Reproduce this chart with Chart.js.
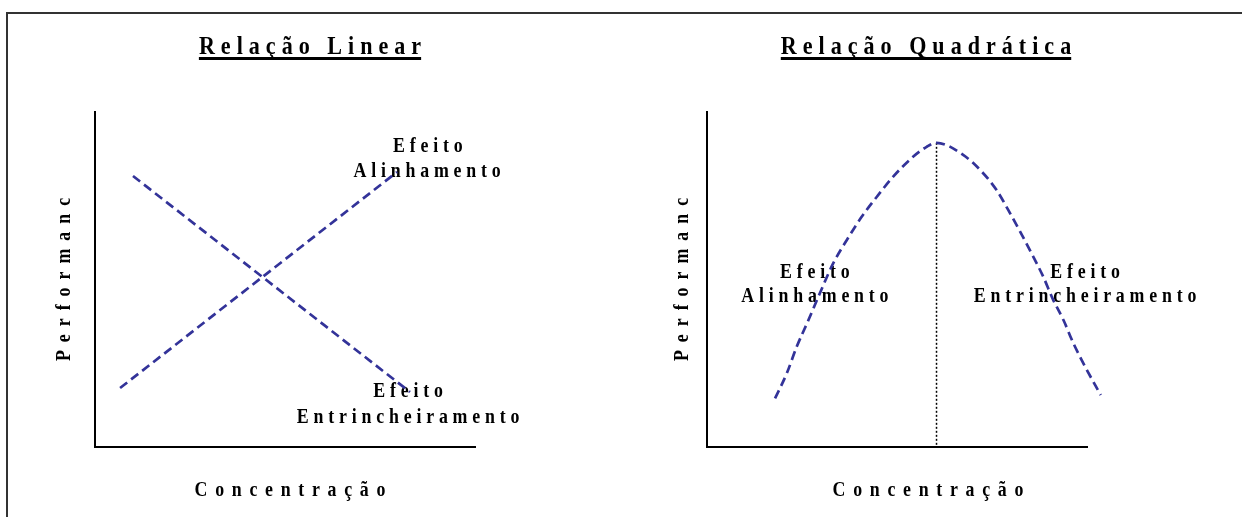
<!DOCTYPE html>
<html>
<head>
<meta charset="utf-8">
<script src="https://cdn.jsdelivr.net/npm/chart.js@4/dist/chart.umd.min.js"></script>
<style>
    body { margin: 0; background: #fff; width: 1242px; height: 517px; overflow: hidden; position: relative; }
    #moldura { position: absolute; left: 6px; top: 12px; width: 1300px; height: 600px;
               border-top: 2px solid #333; border-left: 2px solid #333; }
    canvas { position: absolute; top: 0; }
</style>
</head>
<body>
<div id="moldura"></div>
<canvas id="graficoLinear" width="620" height="517" style="left:0"></canvas>
<canvas id="graficoQuadratico" width="612" height="517" style="left:620px"></canvas>
<script>
const titulos = ['Relação Linear', 'Relação Quadrática'];
const rotuloX = 'Concentração';
const rotuloY = 'Performanc';

// relação linear (escala 0-100)
const alinhamentoX = [6.6, 79.5];
const alinhamentoY = [17.6, 82.1];
const entrincheiramentoX = [10.0, 82.9];
const entrincheiramentoY = [80.9, 16.4];

// relação quadrática
const curvaX = [17.9, 21.0, 23.6, 26.7, 29.7, 33.2, 36.8, 40.7, 44.7, 49.0, 54.3, 57.8, 60.4,
                67.4, 72.3, 76.2, 79.3, 82.4, 85.4, 88.5, 91.1, 93.8, 96.4, 99.5, 103.6];
const curvaY = [14.5, 22.0, 29.9, 37.9, 45.9, 54.8, 61.8, 68.7, 74.7, 80.7, 86.7, 89.6, 90.8,
                87.2, 82.2, 76.7, 70.7, 64.3, 57.8, 50.8, 43.9, 37.9, 31.0, 24.0, 15.5];

const pontos = (xs, ys) => xs.map((x, i) => ({ x: x, y: ys[i] }));

const azul = '#333399';
const fonte = '"Liberation Serif"';
const estreito = 0.85; // letras condensadas como no original

// texto com espaçamento entre letras, centrado em (x, y)
function textoEspacado(ctx, texto, x, y, espaco, girar) {
    ctx.save();
    ctx.translate(x, y);
    if (girar) ctx.rotate(-Math.PI / 2);
    ctx.scale(estreito, 1);
    ctx.letterSpacing = (espaco / estreito) + 'px';
    const w = ctx.measureText(texto).width - espaco / estreito;
    ctx.textAlign = 'left';
    ctx.fillText(texto, -w / 2, 0);
    ctx.restore();
    return w * estreito;
}

const decoracao = {
    id: 'decoracao',
    beforeDatasetsDraw(chart, args, opts) {
        const ctx = chart.ctx;
        const sx = chart.scales.x, sy = chart.scales.y;
        const area = chart.chartArea;
        ctx.save();
        ctx.fillStyle = '#000';
        ctx.textBaseline = 'middle';

        ctx.font = 'bold 21px ' + fonte;
        opts.rotulos.forEach(r => {
            textoEspacado(ctx, r.texto, sx.getPixelForValue(r.x), sy.getPixelForValue(r.y), 4.8);
        });

        // títulos dos eixos
        textoEspacado(ctx, rotuloX, (area.left + area.right) / 2 + opts.desvioX, area.bottom + 44, 7.7);
        textoEspacado(ctx, rotuloY, area.left - opts.desvioY, (area.top + area.bottom) / 2, 8, true);

        // título sublinhado
        ctx.font = 'bold 26px ' + fonte;
        ctx.textBaseline = 'alphabetic';
        const cx = chart.width / 2;
        const w = textoEspacado(ctx, opts.titulo, cx, 54, 6);
        ctx.fillRect(cx - w / 2, 57, w, 3);
        ctx.restore();
    }
};

const escalas = {
    x: {
        type: 'linear', min: 0, max: 100,
        grid: { display: false, drawTicks: false },
        ticks: { display: false },
        border: { display: true, color: '#000', width: 2 }
    },
    y: {
        type: 'linear', min: 0, max: 100,
        grid: { display: false, drawTicks: false },
        ticks: { display: false },
        border: { display: true, color: '#000', width: 2 }
    }
};

new Chart(document.getElementById('graficoLinear'), {
    type: 'scatter',
    data: {
        datasets: [
            { data: pontos(alinhamentoX, alinhamentoY), showLine: true, borderColor: azul, borderWidth: 2.7,
              borderDash: [9, 5], pointRadius: 0 },
            { data: pontos(entrincheiramentoX, entrincheiramentoY), showLine: true, borderColor: azul, borderWidth: 2.7,
              borderDash: [9, 5], pointRadius: 0 }
        ]
    },
    options: {
        responsive: false,
        animation: false,
        layout: { padding: { top: 112, left: 95, right: 145, bottom: 70 } },
        scales: escalas,
        plugins: {
            legend: { display: false },
            tooltip: { enabled: false },
            decoracao: {
                titulo: titulos[0],
                desvioX: 5,
                desvioY: 30,
                rotulos: [
                    { texto: 'Efeito', x: 87.6, y: 89.6 },
                    { texto: 'Alinhamento', x: 87.4, y: 82.1 },
                    { texto: 'Efeito', x: 82.4, y: 16.4 },
                    { texto: 'Entrincheiramento', x: 82.4, y: 8.7 }
                ]
            }
        }
    },
    plugins: [decoracao]
});

const picoY = Math.max(...curvaY);
const picoX = curvaX[curvaY.indexOf(picoY)];

new Chart(document.getElementById('graficoQuadratico'), {
    type: 'scatter',
    data: {
        datasets: [
            { data: pontos(curvaX, curvaY), showLine: true, borderColor: azul, borderWidth: 2.7,
              borderDash: [9, 5], pointRadius: 0, cubicInterpolationMode: 'monotone', clip: false },
            { data: [{ x: picoX, y: picoY }, { x: picoX, y: 0 }], showLine: true, borderColor: '#000',
              borderWidth: 1.5, borderDash: [2, 2], pointRadius: 0 }
        ]
    },
    options: {
        responsive: false,
        animation: false,
        layout: { padding: { top: 112, left: 87, right: 145, bottom: 70 } },
        scales: escalas,
        plugins: {
            legend: { display: false },
            tooltip: { enabled: false },
            decoracao: {
                titulo: titulos[1],
                desvioX: 31,
                desvioY: 24,
                rotulos: [
                    { texto: 'Efeito', x: 28.4, y: 52.2 },
                    { texto: 'Alinhamento', x: 28.4, y: 44.8 },
                    { texto: 'Efeito', x: 99.5, y: 52.2 },
                    { texto: 'Entrincheiramento', x: 99.5, y: 44.8 }
                ]
            }
        }
    },
    plugins: [decoracao]
});
</script>
</body>
</html>
